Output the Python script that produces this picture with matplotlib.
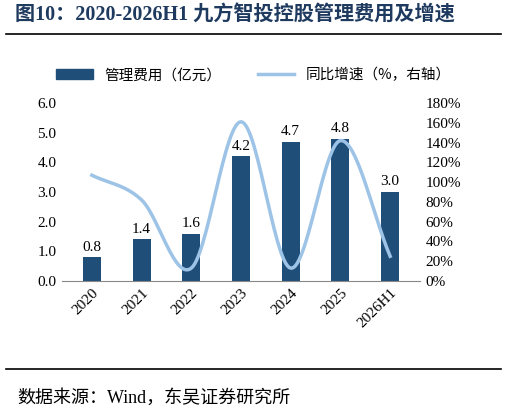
import numpy as np
import matplotlib
matplotlib.use("Agg")
import matplotlib.pyplot as plt
from matplotlib.lines import Line2D

plt.rcParams['font.family'] = ['Liberation Serif', 'Noto Sans CJK SC', 'DejaVu Sans']

categories = ['2020', '2021', '2022', '2023', '2024', '2025', '2026H1']
expense = [0.8, 1.4, 1.6, 4.2, 4.7, 4.8, 3.0]
growth = [107, 82, 13, 161, 13, 142, 25]

bar_color = '#1F4E79'
line_color = '#9DC3E6'
title_color = '#1F3A5F'

fig = plt.figure(figsize=(5.07, 4.16), dpi=100)
ax = fig.add_axes([62/507, 1-281/416, (420-62)/507, (281-103)/416])
x = np.arange(len(categories))
ax.bar(x, expense, width=0.36, color=bar_color, zorder=2)
for xi, v in zip(x, expense):
    ax.text(xi, v + 0.12, f'{v:.1f}', ha='center', va='bottom', fontsize=11)
ax.set_ylim(0, 6)
ax.set_yticks(np.arange(0, 6.01, 1.0))
ax.set_yticklabels([f'{v:.1f}' for v in np.arange(0, 6.01, 1.0)], fontsize=11)
ax.set_xlim(-0.6, len(categories) - 0.4)
ax.set_xticks(x)
ax.set_xticklabels(categories, rotation=45, fontsize=11, ha='right', va='top', rotation_mode='anchor')
for s in ['top', 'right', 'left']:
    ax.spines[s].set_visible(False)
ax.spines['bottom'].set_color('#888888')
ax.tick_params(axis='both', length=0, pad=4)

# Catmull-Rom smoothing for drawing the curve
def catmull(xs, ys, n=30):
    xs = np.asarray(xs, float); ys = np.asarray(ys, float)
    px = np.concatenate([[2*xs[0]-xs[1]], xs, [2*xs[-1]-xs[-2]]])
    py = np.concatenate([[2*ys[0]-ys[1]], ys, [2*ys[-1]-ys[-2]]])
    ox, oy = [], []
    for i in range(1, len(px)-2):
        t = np.linspace(0, 1, n, endpoint=False)
        for P, out in ((px, ox), (py, oy)):
            p0, p1, p2, p3 = P[i-1], P[i], P[i+1], P[i+2]
            out.extend(0.5*((2*p1) + (-p0+p2)*t + (2*p0-5*p1+4*p2-p3)*t**2 + (-p0+3*p1-3*p2+p3)*t**3))
    ox.append(xs[-1]); oy.append(ys[-1])
    return np.array(ox), np.array(oy)

ax2 = ax.twinx()
sx, sy = catmull(x, growth)
ax2.plot(sx, sy, color=line_color, lw=2.5, zorder=3)
ax2.set_ylim(0, 180)
ax2.set_yticks(np.arange(0, 181, 20))
ax2.set_yticklabels([f'{v}%' for v in range(0, 181, 20)], fontsize=11)
for s in ['top', 'right', 'left', 'bottom']:
    ax2.spines[s].set_visible(False)
ax2.tick_params(axis='y', length=0, pad=4)

handles = [plt.Rectangle((0, 0), 1, 1, color=bar_color), Line2D([0], [0], color=line_color, lw=2.5)]
fig.legend(handles, ['管理费用（亿元）', '同比增速（%，右轴）'], loc='center', bbox_to_anchor=(0.5, 1-75/416),
           ncol=2, frameon=False, handlelength=2.5, columnspacing=2.5,
           prop={'family': ['Noto Sans CJK SC'], 'size': 10.5})

fig.text(15/507, 1-15/416, '图10：2020-2026H1 九方智投控股管理费用及增速', fontsize=14.5, fontweight='bold',
         color=title_color, va='center', family=['Liberation Serif', 'Noto Sans CJK SC'])
fig.add_artist(Line2D([6/507, 501/507], [1-34/416, 1-34/416], color='black', lw=1.2))
fig.add_artist(Line2D([6/507, 501/507], [1-369/416, 1-369/416], color='black', lw=1.2))
fig.text(17/507, 1-398/416, '数据来源：Wind，东吴证券研究所', fontsize=13, va='center',
         family=['Liberation Serif', 'Noto Sans CJK SC'])

fig.savefig('out.png', dpi=100)
